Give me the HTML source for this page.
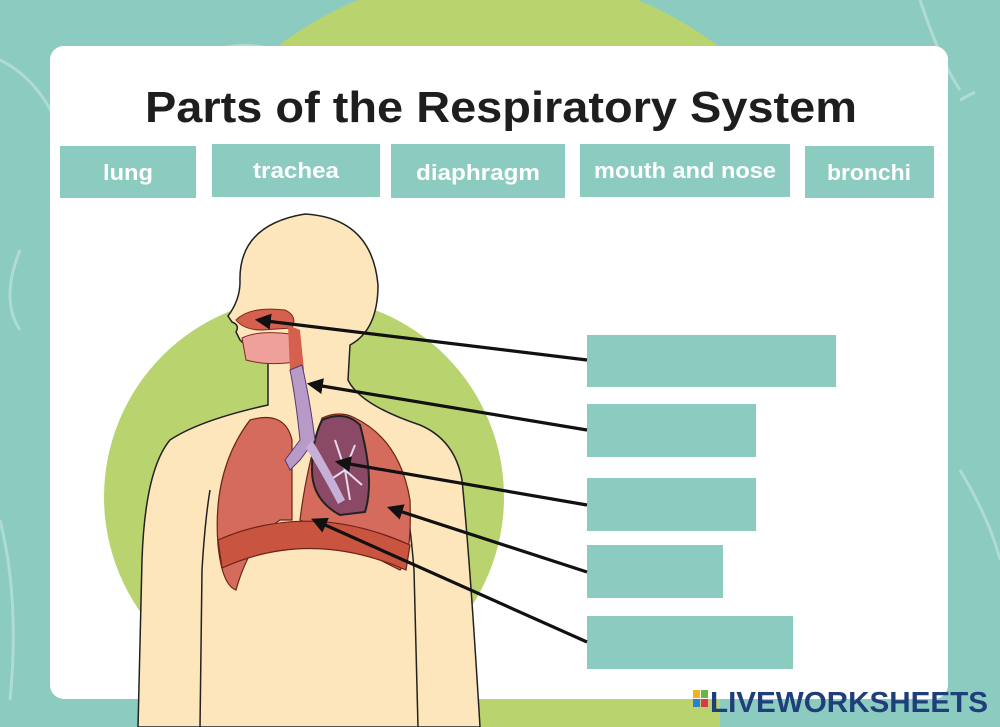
<!DOCTYPE html>
<html><head><meta charset="utf-8"><style>
html,body{margin:0;padding:0;width:1000px;height:727px;overflow:hidden;background:#8ccbc0}
svg{display:block}
</style></head><body>
<svg width="1000" height="727" viewBox="0 0 1000 727" xmlns="http://www.w3.org/2000/svg" font-family="Liberation Sans, sans-serif">
<rect width="1000" height="727" fill="#8ccbc0"/>
<g fill="none" stroke="#b7e0d8" stroke-width="3" opacity="0.8">
<path d="M160 90 Q220 20 300 60"/>
<path d="M0 60 Q40 80 60 130"/>
<path d="M920 0 Q940 60 960 90"/>
<path d="M0 520 Q20 600 10 700"/>
<path d="M960 470 Q990 520 1000 560"/>
<path d="M20 250 Q0 300 20 330"/>
<path d="M960 100 L975 92"/>
</g>
<circle cx="498" cy="336" r="364" fill="#b9d46e"/>
<rect x="210" y="690" width="510" height="37" fill="#b9d46e"/>
<rect x="50" y="46" width="898" height="653" rx="14" fill="#fff"/>
<circle cx="304" cy="497" r="200" fill="#b9d46e"/>
<rect x="50" y="46" width="898" height="260" rx="14" fill="#fff"/>
<text x="501" y="122" text-anchor="middle" font-size="44" font-weight="bold" fill="#1e1e1e" textLength="712" lengthAdjust="spacingAndGlyphs">Parts of the Respiratory System</text>
<g fill="#8ccbc0">
<rect x="60" y="146" width="136" height="52"/>
<rect x="212" y="144" width="168" height="53"/>
<rect x="391" y="144" width="174" height="54"/>
<rect x="580" y="144" width="210" height="53"/>
<rect x="805" y="146" width="129" height="52"/>
</g>
<g fill="#fff" font-size="22" font-weight="bold" text-anchor="middle">
<text x="128" y="180" textLength="50" lengthAdjust="spacingAndGlyphs">lung</text>
<text x="296" y="178" textLength="86" lengthAdjust="spacingAndGlyphs">trachea</text>
<text x="478" y="180" textLength="124" lengthAdjust="spacingAndGlyphs">diaphragm</text>
<text x="685" y="178" textLength="182" lengthAdjust="spacingAndGlyphs">mouth and nose</text>
<text x="869" y="180" textLength="84" lengthAdjust="spacingAndGlyphs">bronchi</text>
</g>
<g fill="#8ccbc0">
<rect x="587" y="335" width="249" height="52"/>
<rect x="587" y="404" width="169" height="53"/>
<rect x="587" y="478" width="169" height="53"/>
<rect x="587" y="545" width="136" height="53"/>
<rect x="587" y="616" width="206" height="53"/>
</g>
<g stroke="#222" stroke-width="1.5" fill="#fde6bb">
<path d="M138 727 L142 560 Q145 470 170 440 Q200 420 268 405 L268 360 Q250 350 240 340 L236 332 Q240 325 232 322 L228 316 Q240 300 240 282 Q238 225 305 214 Q372 218 378 285 Q378 330 350 345 L348 380 Q360 405 420 425 Q455 440 462 480 Q470 560 480 727 Z"/>
<path d="M200 727 L202 570 Q205 520 210 490" fill="none"/>
<path d="M418 727 L414 570 Q410 520 404 490" fill="none"/>
</g>
<path d="M236 320 Q250 306 285 310 Q298 316 292 328 L262 330 Q244 330 236 320Z" fill="#d6604e" stroke="#7a2a20" stroke-width="1"/>
<path d="M242 338 Q258 330 290 334 L294 362 Q268 366 246 360 Z" fill="#f0a09a" stroke="#7a2a20" stroke-width="1"/>
<path d="M288 325 L300 330 L304 370 L290 372 Z" fill="#d6604e"/>
<path d="M250 420 Q285 410 292 440 L292 520 L280 520 Q250 540 236 590 Q222 585 218 545 Q212 470 250 420Z" fill="#d46b5c" stroke="#6a2418" stroke-width="1.2"/>
<path d="M322 418 Q340 410 355 418 Q400 440 410 500 Q412 560 400 570 L300 520 Q306 470 322 418Z" fill="#d46b5c" stroke="#6a2418" stroke-width="1.2"/>
<path d="M322 420 Q345 410 360 425 Q375 480 365 512 L340 515 Q312 500 312 470 Q312 440 322 420Z" fill="#8a4a66" stroke="#222" stroke-width="2"/>
<g stroke="#e8d8ee" stroke-width="2" fill="none"><path d="M335 440 L345 470 L355 445 M345 470 L350 500 M330 480 L345 470 L362 485"/></g>
<path d="M290 370 L302 365 Q310 400 315 440 L300 460 L290 470 L285 460 L300 440 Q296 400 290 370Z" fill="#b89ac8" stroke="#5a3a6a" stroke-width="1"/>
<path d="M312 440 Q330 470 345 500 L338 504 Q320 470 306 448Z" fill="#c7b0d8"/>
<path d="M218 540 Q310 500 410 545 L406 570 Q310 528 222 568 Z" fill="#c95440" stroke="#6a2418" stroke-width="1.2"/>
<defs><marker id="a" markerWidth="5" markerHeight="5" refX="4" refY="2.5" orient="auto" markerUnits="strokeWidth"><path d="M0 0 L5 2.5 L0 5 Z" fill="#111"/></marker></defs>
<g stroke="#111" stroke-width="3.2" marker-end="url(#a)">
<line x1="587" y1="360" x2="258" y2="320"/>
<line x1="587" y1="430" x2="310" y2="384"/>
<line x1="587" y1="505" x2="338" y2="462"/>
<line x1="587" y1="572" x2="390" y2="508"/>
<line x1="587" y1="642" x2="314" y2="520"/>
</g>
<rect x="693" y="690" width="7" height="8" fill="#f2b418"/><rect x="701" y="690" width="7" height="8" fill="#6ab54a"/>
<rect x="693" y="699" width="7" height="8" fill="#2f7fd0"/><rect x="701" y="699" width="7" height="8" fill="#e0364a"/>
<text x="710" y="712" font-size="29" font-weight="bold" fill="#1f3f7a" textLength="278" lengthAdjust="spacingAndGlyphs">LIVEWORKSHEETS</text>
</svg>
</body></html>
